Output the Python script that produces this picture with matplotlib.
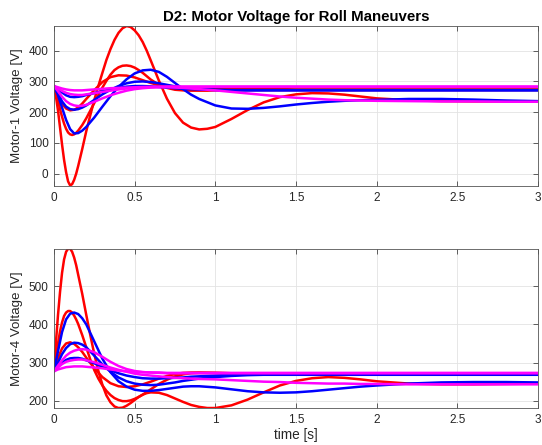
import matplotlib
matplotlib.use("Agg")
import matplotlib.pyplot as plt

plt.rcParams['font.family'] = ['Liberation Sans', 'DejaVu Sans']

# time samples [s]
t = [0, 0.025, 0.05, 0.075, 0.1, 0.125, 0.15, 0.175, 0.2, 0.25, 0.3, 0.35, 0.4,
     0.45, 0.5, 0.55, 0.6, 0.65, 0.7, 0.75, 0.8, 0.85, 0.9, 1.0, 1.1, 1.2, 1.3,
     1.4, 1.5, 1.6, 1.7, 1.8, 1.9, 2.0, 2.2, 2.4, 2.6, 2.8, 3.0]
# finer samples for the big swings
t_fine = [0, 0.0125, 0.025, 0.0375, 0.05, 0.0625, 0.075, 0.0875, 0.1, 0.1125, 0.125,
          0.1375, 0.15, 0.175, 0.2, 0.225, 0.25, 0.275, 0.3, 0.325, 0.35, 0.375, 0.4,
          0.425, 0.45, 0.475, 0.5, 0.525, 0.55, 0.575, 0.6, 0.65, 0.7, 0.75, 0.8, 0.85,
          0.9, 0.95, 1.0, 1.1, 1.2, 1.3, 1.4, 1.5, 1.6, 1.7, 1.8, 1.9, 2.0, 2.2, 2.4,
          2.6, 2.8, 3.0]

# motor-1 voltage [V]
m1_red_a = [285, 250, 205, 150, 95, 45, 5, -25, -38, -34, -20, 0, 25, 80, 138, 190, 240,
            285, 328, 370, 405, 435, 458, 473, 480, 477, 466, 450, 428, 400, 368, 303,
            244, 197, 166, 150, 144, 146, 152,
            178, 207, 232, 249, 258, 262, 261, 257, 251, 245, 239, 236, 235, 235, 235]
m1_red_b = [285, 262, 238, 210, 185, 163, 146, 134, 128, 126, 128, 133, 140, 158, 180, 205,
            230, 256, 280, 302, 322, 337, 346, 351, 352, 350, 345, 337, 328, 317, 306, 289,
            279, 273, 271, 270, 270, 270, 271,
            272, 272, 272, 272, 272, 272, 272, 272, 272, 272, 272, 272, 272, 272, 272]
m1_red_c = [285, 255, 228, 212, 206, 208, 215, 228, 243, 272, 298, 314, 320, 319, 313, 304,
            295, 288, 283, 280, 278, 277, 277, 277, 278, 278, 279, 279, 280, 280, 280,
            280, 280, 280, 280, 280, 280, 280, 280]
m1_blue_a = [285, 255, 215, 175, 145, 131, 132, 140, 152, 183, 218, 252, 282, 307, 326, 336,
             338, 331, 315, 295, 275, 257, 243, 222, 212, 211, 214, 219, 225, 230, 234,
             237, 239, 240, 243, 243, 241, 238, 236]
m1_blue_b = [285, 262, 235, 218, 210, 208, 210, 215, 222, 240, 258, 273, 285, 294, 299, 300,
             298, 294, 289, 284, 280, 277, 275, 273, 272, 272, 272, 272, 272, 272, 272,
             272, 272, 272, 272, 272, 272, 272, 272]
m1_blue_c = [285, 275, 264, 255, 250, 249, 250, 252, 256, 262, 268, 274, 279, 283, 285, 285,
             284, 282, 280, 278, 276, 275, 274, 272, 271, 271, 271, 271, 271, 271, 271,
             271, 271, 271, 271, 271, 271, 271, 271]
m1_mag_a = [285, 268, 250, 236, 227, 222, 220, 221, 224, 234, 245, 255, 263, 270, 275, 278,
            280, 281, 281, 280, 279, 277, 275, 271, 266, 261, 256, 251, 247, 244, 241,
            239, 238, 237, 236, 235, 235, 234, 234]
m1_mag_b = [285, 277, 269, 263, 259, 257, 256, 256, 258, 262, 266, 270, 274, 277, 279, 281,
            282, 282, 283, 283, 283, 283, 283, 283, 283, 283, 283, 283, 283, 283, 283,
            283, 283, 283, 283, 283, 283, 283, 283]
m1_mag_c = [285, 281, 277, 274, 272, 271, 271, 271, 272, 274, 276, 278, 279, 280, 281, 282,
            282, 283, 283, 283, 283, 283, 283, 283, 283, 283, 283, 283, 283, 283, 283,
            283, 283, 283, 283, 283, 283, 283, 283]

# motor-4 voltage [V]
m4_red_a = [277, 355, 425, 485, 535, 570, 590, 598, 598, 590, 575, 555, 530, 480, 425, 372,
            322, 278, 242, 214, 196, 185, 181, 182, 187, 194, 202, 210, 216, 220, 222, 221,
            215, 206, 197, 189, 184, 181, 181,
            188, 203, 222, 240, 252, 259, 262, 260, 256, 251, 245, 243, 243, 244, 245]
m4_red_b = [277, 315, 350, 382, 405, 422, 431, 435, 435, 431, 423, 413, 401, 372, 340, 308,
            280, 258, 240, 226, 215, 207, 202, 199, 199, 201, 205, 210, 216, 223, 230, 244,
            255, 264, 269, 272, 273, 273, 273,
            272, 271, 270, 270, 270, 270, 270, 270, 270, 270, 270, 270, 270, 270, 270]
m4_red_c = [277, 312, 337, 350, 353, 349, 340, 328, 313, 285, 262, 246, 238, 236, 238, 243,
            250, 258, 265, 270, 273, 274, 274, 273, 272, 271, 271, 271, 271, 271, 271,
            271, 271, 271, 271, 271, 271, 271, 271]
m4_blue_a = [277, 330, 380, 413, 428, 431, 427, 416, 400, 355, 310, 275, 251, 237, 229, 226,
             226, 228, 231, 234, 237, 238, 238, 235, 230, 225, 222, 221, 222, 225, 229,
             233, 237, 240, 245, 248, 249, 249, 248]
m4_blue_b = [277, 300, 322, 338, 348, 352, 351, 347, 340, 318, 295, 276, 261, 251, 245, 242,
             241, 242, 245, 248, 252, 255, 258, 262, 265, 267, 268, 268, 268, 268, 268,
             268, 268, 268, 268, 268, 268, 268, 268]
m4_blue_c = [277, 290, 300, 307, 311, 312, 312, 310, 306, 298, 289, 280, 272, 266, 262, 259,
             258, 258, 259, 260, 261, 263, 264, 266, 268, 269, 270, 270, 270, 270, 270,
             270, 270, 270, 270, 270, 270, 270, 270]
m4_mag_a = [277, 292, 306, 318, 326, 331, 334, 335, 334, 327, 315, 302, 291, 283, 278, 275,
            274, 273, 272, 272, 272, 272, 272, 272, 272, 272, 272, 272, 272, 272, 272,
            272, 272, 272, 272, 272, 272, 272, 272]
m4_mag_b = [277, 287, 296, 302, 305, 307, 308, 308, 306, 301, 294, 287, 281, 276, 271, 268,
            266, 264, 262, 260, 259, 258, 257, 256, 254, 252, 250, 249, 247, 246, 245,
            245, 244, 244, 243, 243, 243, 243, 243]
m4_mag_c = [277, 282, 285, 288, 289, 290, 290, 290, 289, 287, 285, 282, 279, 277, 276, 275,
            274, 274, 273, 273, 273, 273, 273, 273, 273, 273, 273, 273, 273, 273, 273,
            273, 273, 273, 273, 273, 273, 273, 273]

xticks = [0, 0.5, 1, 1.5, 2, 2.5, 3]
xtick_labels = ['0', '0.5', '1', '1.5', '2', '2.5', '3']
m1_yticks = [0, 100, 200, 300, 400]
m4_yticks = [200, 300, 400, 500]

fig = plt.figure(figsize=(5.42, 4.45), dpi=100)
ax1 = fig.add_axes([0.0996, 0.582, 0.893, 0.3594])
ax2 = fig.add_axes([0.0996, 0.0831, 0.893, 0.3579])

red, blue, mag = '#ff0000', '#0000ff', '#ff00ff'
groups = [
    (ax1, [(t_fine, m1_red_a, red), (t_fine, m1_red_b, red), (t, m1_red_c, red),
           (t, m1_blue_a, blue), (t, m1_blue_b, blue), (t, m1_blue_c, blue),
           (t, m1_mag_a, mag), (t, m1_mag_b, mag), (t, m1_mag_c, mag)]),
    (ax2, [(t_fine, m4_red_a, red), (t_fine, m4_red_b, red), (t, m4_red_c, red),
           (t, m4_blue_a, blue), (t, m4_blue_b, blue), (t, m4_blue_c, blue),
           (t, m4_mag_a, mag), (t, m4_mag_b, mag), (t, m4_mag_c, mag)]),
]
for ax, lines in groups:
    for x, y, c in lines:
        ax.plot(x, y, color=c, lw=1.8, solid_joinstyle='round', solid_capstyle='round')

# matlab-ish axes look
for ax in (ax1, ax2):
    ax.set_xlim(0, 3)
    ax.set_xticks(xticks)
    ax.set_xticklabels(xtick_labels)
    ax.grid(True, color='#e3e3e3', lw=0.6)
    ax.set_axisbelow(True)
    ax.tick_params(direction='in', top=True, right=True, length=3.5, width=0.5,
                   labelsize=8.5, colors='#262626', pad=4)
    for s in ax.spines.values():
        s.set_color('#555555')
        s.set_linewidth(0.6)

ax1.set_ylim(-40, 480)
ax1.set_yticks(m1_yticks)
ax2.set_ylim(181, 598)
ax2.set_yticks(m4_yticks)

ax1.set_title('D2: Motor Voltage for Roll Maneuvers', fontsize=10.8, fontweight='bold',
              color='black', pad=4)
ax1.set_ylabel('Motor-1 Voltage [V]', fontsize=9.6, color='#262626')
ax2.set_ylabel('Motor-4 Voltage [V]', fontsize=9.6, color='#262626')
ax2.set_xlabel('time [s]', fontsize=9.8, color='#262626', labelpad=2)

plt.savefig('out.png', dpi=100)
